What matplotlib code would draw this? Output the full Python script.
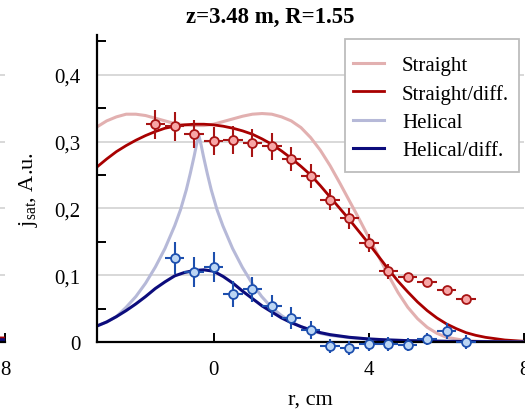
import matplotlib
matplotlib.use("Agg")
import matplotlib.pyplot as plt
from matplotlib.patches import Rectangle
from matplotlib.ticker import FixedLocator, FixedFormatter

plt.rcParams["font.family"] = ["Liberation Serif", "DejaVu Serif"]
plt.rcParams["mathtext.fontset"] = "custom"
plt.rcParams["mathtext.rm"] = "Liberation Serif"
plt.rcParams["mathtext.it"] = "Liberation Serif:italic"

# ---- measured profiles ----
r_straight_pts = [-1.5, -1, -0.5, 0, 0.5, 1, 1.5, 2, 2.5, 3, 3.5, 4, 4.5, 5, 5.5, 6, 6.5]
j_straight_pts = [0.326, 0.323, 0.311, 0.301, 0.302, 0.298, 0.293, 0.274, 0.249, 0.213,
                  0.185, 0.148, 0.106, 0.097, 0.090, 0.078, 0.065]
err_straight = [0.022, 0.022, 0.021, 0.021, 0.021, 0.021, 0.020, 0.018, 0.018, 0.016,
                0.016, 0.013, 0.011, 0.006, 0.006, 0.006, 0.006]

r_helical_pts = [-1, -0.5, 0, 0.5, 1, 1.5, 2, 2.5, 3, 3.5, 4, 4.5, 5, 5.5, 6, 6.5]
j_helical_pts = [0.126, 0.105, 0.112, 0.072, 0.079, 0.054, 0.036, 0.018, -0.006, -0.009,
                 -0.003, -0.003, -0.004, 0.004, 0.016, 0.000]
err_helical = [0.024, 0.022, 0.022, 0.019, 0.019, 0.017, 0.016, 0.014, 0.010, 0.010,
               0.010, 0.010, 0.010, 0.009, 0.012, 0.010]
r_err = 0.25

# ---- model curves ----
r_straight = [-3, -2.75, -2.5, -2.25, -2.0, -1.75, -1.5, -1.25, -1.0, -0.75, -0.5, -0.25,
              0, 0.25, 0.5, 0.75, 1.0, 1.25, 1.5, 1.75, 2.0, 2.25, 2.5, 2.75, 3.0, 3.25,
              3.5, 3.75, 4.0, 4.25, 4.5, 4.75, 5.0, 5.25, 5.5, 5.75, 6.0, 6.5, 7.0, 8.0]
j_straight = [0.322, 0.331, 0.337, 0.341, 0.341, 0.339, 0.335, 0.331, 0.327, 0.325, 0.324,
              0.324, 0.326, 0.330, 0.334, 0.338, 0.341, 0.342, 0.341, 0.337, 0.331, 0.321,
              0.306, 0.287, 0.264, 0.238, 0.211, 0.184, 0.156, 0.128, 0.100, 0.074, 0.052,
              0.035, 0.022, 0.013, 0.007, 0.002, 0.0005, 0.0]

r_straight_diff = [-3, -2.75, -2.5, -2.25, -2.0, -1.75, -1.5, -1.25, -1.0, -0.75, -0.5,
                   -0.25, 0, 0.25, 0.5, 0.75, 1.0, 1.25, 1.5, 1.75, 2.0, 2.25, 2.5, 2.75,
                   3.0, 3.25, 3.5, 3.75, 4.0, 4.25, 4.5, 4.75, 5.0, 5.25, 5.5, 5.75, 6.0,
                   6.25, 6.5, 6.75, 7.0, 7.5, 8.0]
j_straight_diff = [0.262, 0.274, 0.285, 0.294, 0.302, 0.309, 0.315, 0.320, 0.323, 0.325,
                   0.326, 0.326, 0.325, 0.323, 0.320, 0.316, 0.311, 0.304, 0.296, 0.286,
                   0.275, 0.263, 0.250, 0.234, 0.217, 0.200, 0.183, 0.165, 0.147, 0.128,
                   0.109, 0.091, 0.075, 0.060, 0.047, 0.036, 0.027, 0.020, 0.014, 0.010,
                   0.007, 0.003, 0.001]

r_helical = [-3, -2.75, -2.5, -2.25, -2.0, -1.75, -1.5, -1.25, -1.0, -0.85, -0.7, -0.6,
             -0.5, -0.44, -0.38, -0.32, -0.26, -0.16, -0.06, 0.09, 0.24, 0.49, 0.74, 0.99,
             1.24, 1.49, 1.74, 2.0, 2.25, 2.5, 2.75, 3.0, 3.5, 4.0, 5.0, 6.0, 8.0]
j_helical = [0.024, 0.030, 0.038, 0.052, 0.068, 0.088, 0.112, 0.140, 0.174, 0.198, 0.228,
             0.252, 0.278, 0.295, 0.310, 0.295, 0.278, 0.252, 0.228, 0.198, 0.174, 0.140,
             0.112, 0.088, 0.068, 0.052, 0.040, 0.030, 0.023, 0.018, 0.013, 0.010, 0.0065,
             0.0045, 0.002, 0.001, 0.0]

r_helical_diff = [-3, -2.75, -2.5, -2.25, -2.0, -1.75, -1.5, -1.25, -1.0, -0.75, -0.5,
                  -0.25, 0, 0.25, 0.5, 0.75, 1.0, 1.25, 1.5, 1.75, 2.0, 2.25, 2.5, 2.75,
                  3.0, 3.5, 4.0, 4.5, 5.0, 6.0, 7.0, 8.0]
j_helical_diff = [0.024, 0.030, 0.038, 0.047, 0.057, 0.068, 0.080, 0.090, 0.099, 0.104,
                  0.107, 0.108, 0.106, 0.098, 0.088, 0.076, 0.065, 0.054, 0.045, 0.036,
                  0.029, 0.023, 0.018, 0.014, 0.011, 0.007, 0.0045, 0.003, 0.002, 0.001,
                  0.0005, 0.0]

# tail of the neighbouring panel's profiles
r_prev = [7.0, 8.0]
j_prev_straight = [0.007, 0.006]
j_prev_helical = [0.004, 0.0035]

y_ticks = [0.0, 0.1, 0.2, 0.3, 0.4]
y_tick_labels = ["0", "0,1", "0,2", "0,3", "0,4"]
y_minor = [0.05, 0.15, 0.25, 0.35, 0.45]
x_ticks = [0, 4, 8]
x_tick_labels = ["0", "4", "8"]

c_str_light = "#e2b0b0"
c_str_dark = "#a80000"
c_hel_light = "#b6b9d8"
c_hel_dark = "#0c0c7c"
grid_c = "#d2d2d2"

W, H = 525, 414
fig = plt.figure(figsize=(W / 100, H / 100), dpi=100)

x0, x1 = 97, 524.3
y_top, y_bot = 35.7, 343
axw = (x1 - x0) / W
axh = (y_bot - y_top) / H
axb = 1 - y_bot / H


def style_axes(a, ylabels=True):
    a.set_xlim(-3, 8)
    a.set_ylim(0, 0.46)
    for s in ("top", "right"):
        a.spines[s].set_visible(False)
    for s in ("left", "bottom"):
        a.spines[s].set_linewidth(1.6)
        a.spines[s].set_color("black")
    a.yaxis.set_major_locator(FixedLocator(y_ticks))
    a.yaxis.set_major_formatter(FixedFormatter(y_tick_labels))
    a.yaxis.set_minor_locator(FixedLocator(y_minor))
    a.xaxis.set_major_locator(FixedLocator(x_ticks))
    a.xaxis.set_major_formatter(FixedFormatter(x_tick_labels))
    a.tick_params(axis="y", which="major", length=0, pad=12, labelsize=15,
                  labelleft=ylabels)
    a.tick_params(axis="y", which="minor", direction="in", length=6.5, width=1.4)
    a.tick_params(axis="x", which="major", direction="in", length=6.5, width=1.4,
                  pad=13, labelsize=15)
    a.yaxis.grid(True, which="major", color=grid_c, lw=1.2)
    a.set_axisbelow(True)


# neighbouring panel, only its right edge is in view
ax_prev = fig.add_axes([(5 - (x1 - x0)) / W, axb, axw, axh])
style_axes(ax_prev, ylabels=False)
ax_prev.plot(r_prev, j_prev_straight, color=c_str_dark, lw=2)
ax_prev.plot(r_prev, j_prev_helical, color=c_hel_dark, lw=2)

ax = fig.add_axes([x0 / W, axb, axw, axh])
style_axes(ax)

l1, = ax.plot(r_straight, j_straight, color=c_str_light, lw=2.2, label="Straight")
l2, = ax.plot(r_straight_diff, j_straight_diff, color=c_str_dark, lw=2.0, label="Straight/diff.")
l3, = ax.plot(r_helical, j_helical, color=c_hel_light, lw=2.2, label="Helical")
l4, = ax.plot(r_helical_diff, j_helical_diff, color=c_hel_dark, lw=2.2, label="Helical/diff.")

for r, j, e, fc, ec in [
    (r_straight_pts, j_straight_pts, err_straight, "#f7a6a6", "#a81414"),
    (r_helical_pts, j_helical_pts, err_helical, "#bcd6f4", "#1d4fae"),
]:
    cont = ax.errorbar(r, j, xerr=r_err, yerr=e, fmt="o", ms=6.4, mfc=fc, mec=ec, mew=1.3,
                       ecolor=ec, elinewidth=1.5, capsize=0, zorder=5)
    for art in cont.get_children():
        art.set_clip_on(False)

# legend box drawn separately so its padding can differ per side
box_l, box_r, box_t, box_b = 344.7, 519, 40, 173.3
frame = Rectangle((box_l / W, 1 - box_b / H), (box_r - box_l) / W, (box_b - box_t) / H,
                  transform=fig.transFigure, facecolor="white", edgecolor="#bdbdbd",
                  lw=1.3, zorder=6, clip_on=False)
ax.add_patch(frame)

leg = ax.legend(handles=[l1, l2, l3, l4], loc="center left",
                bbox_to_anchor=(353 / W, 1 - 109 / H), bbox_transform=fig.transFigure,
                borderaxespad=0, borderpad=0, fontsize=15, frameon=False,
                handlelength=1.5, handletextpad=0.85, labelspacing=0.42)
leg.set_zorder(7)

fig.text(270 / W, 1 - 17 / H, "z=3.48 m, R=1.55", ha="center", va="center",
         fontsize=16.5, fontweight="bold")
fig.text(310 / W, 1 - 400 / H, "r, cm", ha="center", va="center", fontsize=16)
fig.text(28 / W, 1 - 190 / H, r"j$_{\mathrm{sat}}$, A.u.", rotation=90, ha="center",
         va="center", fontsize=16)

fig.savefig("out.png", dpi=100)
